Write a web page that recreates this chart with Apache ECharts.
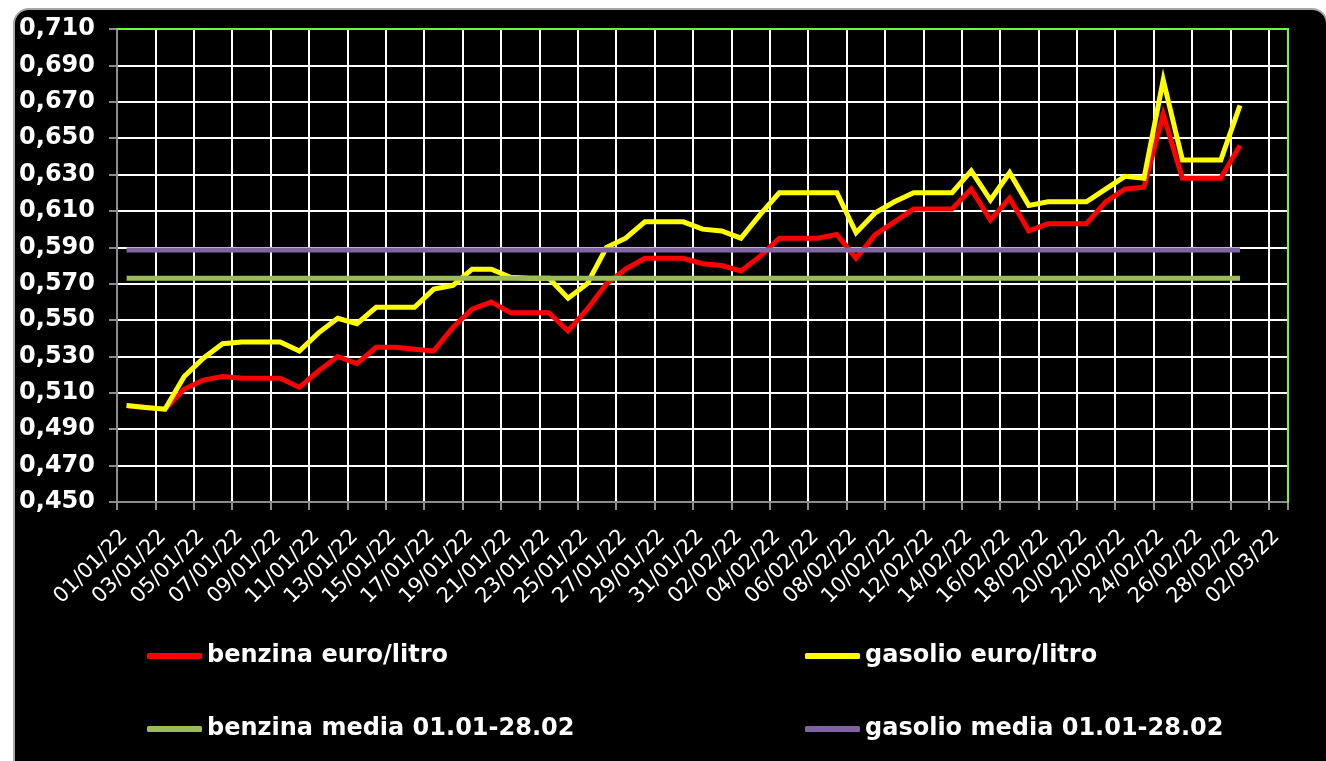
<!DOCTYPE html>
<html>
<head>
<meta charset="utf-8">
<script src="https://cdn.jsdelivr.net/npm/echarts@6/dist/echarts.min.js"></script>
<style>
  html, body { margin: 0; padding: 0; background: #ffffff; width: 1326px; height: 761px; overflow: hidden; }
  #frame { position: absolute; left: 13px; top: 8px; width: 1311px; height: 790px; background: #000; border: 2px solid #a6a6a6; border-radius: 16px; }
  #main { position: absolute; left: 0; top: 0; width: 1326px; height: 761px; }
</style>
</head>
<body>
<div id="frame"></div>
<div id="main"></div>
<script>
// Tick labels of the date axis (every 2 days, 01/01/22 .. 02/03/22)
const tickLabels = ['01/01/22','03/01/22','05/01/22','07/01/22','09/01/22','11/01/22','13/01/22','15/01/22',
  '17/01/22','19/01/22','21/01/22','23/01/22','25/01/22','27/01/22','29/01/22','31/01/22',
  '02/02/22','04/02/22','06/02/22','08/02/22','10/02/22','12/02/22','14/02/22','16/02/22',
  '18/02/22','20/02/22','22/02/22','24/02/22','26/02/22','28/02/22','02/03/22'];

// Daily values 01/01/22 .. 28/02/22
const benzina = [0.503,0.502,0.501,0.512,0.517,0.519,0.518,0.518,0.518,0.513,
  0.522,0.530,0.526,0.535,0.535,0.534,0.533,0.546,0.556,0.560,
  0.554,0.554,0.554,0.544,0.556,0.570,0.578,0.584,0.584,0.584,
  0.581,0.580,0.577,0.585,0.595,0.595,0.595,0.597,0.584,0.597,
  0.604,0.611,0.611,0.611,0.622,0.605,0.617,0.599,0.603,0.603,
  0.603,0.615,0.622,0.623,0.663,0.628,0.628,0.628,0.646];
const gasolio = [0.503,0.502,0.501,0.519,0.529,0.537,0.538,0.538,0.538,0.533,
  0.543,0.551,0.548,0.557,0.557,0.557,0.567,0.569,0.578,0.578,
  0.5735,0.573,0.573,0.562,0.570,0.590,0.595,0.604,0.604,0.604,
  0.600,0.599,0.595,0.608,0.620,0.620,0.620,0.620,0.598,0.609,
  0.615,0.620,0.620,0.620,0.632,0.616,0.631,0.613,0.615,0.615,
  0.615,0.622,0.629,0.628,0.682,0.638,0.638,0.638,0.668];
const benzinaMedia = 0.573;
const gasolioMedia = 0.5885;

const seriesNames = ['benzina euro/litro','gasolio euro/litro','benzina media 01.01-28.02','gasolio media 01.01-28.02'];
const seriesColors = ['#ff0000','#ffff00','#9bbb59','#8064a2'];

const FONT = 'DejaVu Sans';
const daily = arr => arr.map((v, i) => [i + 0.5, v]);
const flat = (v, n) => [[0.5, v], [n - 0.5, v]];

const chart = echarts.init(document.getElementById('main'), null, { renderer: 'canvas' });

const legendPos = [[147, 644], [805, 644], [147, 717], [805, 717]];
const legends = seriesNames.map((name, k) => ({
  data: [name], left: legendPos[k][0], top: legendPos[k][1], padding: 0,
  icon: 'roundRect', itemWidth: 55, itemHeight: 6,
  textStyle: { color: '#ffffff', fontWeight: 'bold', fontSize: 24, fontFamily: FONT },
  selectedMode: false
}));

chart.setOption({
  animation: false,
  backgroundColor: 'transparent',
  color: seriesColors,
  grid: { left: 117, top: 29, width: 1171, height: 473, containLabel: false },
  legend: legends,
  xAxis: [{
    type: 'value', min: 0, max: 61, interval: 2,
    axisLine: { show: true, lineStyle: { color: '#8c8c8c', width: 2 } },
    axisTick: { show: true, length: 8, lineStyle: { color: '#8c8c8c', width: 2 } },
    splitLine: { show: true, lineStyle: { color: '#ffffff', width: 2 } },
    axisLabel: {
      rotate: 45, margin: 24, color: '#ffffff', fontSize: 21, fontFamily: FONT,
      align: 'right', verticalAlign: 'top',
      formatter: v => (v % 2 === 0 && tickLabels[v / 2] !== undefined) ? tickLabels[v / 2] : ''
    }
  }, {
    type: 'value', position: 'top', min: 0, max: 61, z: 5,
    axisLine: { show: true, onZero: false, lineStyle: { color: '#66ff33', width: 2 } },
    axisTick: { show: false }, axisLabel: { show: false }, splitLine: { show: false }
  }],
  yAxis: [{
    type: 'value', min: 0.45, max: 0.71, interval: 0.02,
    axisLine: { show: true, lineStyle: { color: '#8c8c8c', width: 2 } },
    axisTick: { show: true, length: 8, lineStyle: { color: '#8c8c8c', width: 2 } },
    splitLine: { show: true, lineStyle: { color: '#ffffff', width: 2 } },
    axisLabel: {
      margin: 22, color: '#ffffff', fontWeight: 'bold', fontSize: 24, fontFamily: FONT,
      formatter: v => v.toFixed(3).replace('.', ',')
    }
  }, {
    type: 'value', position: 'right', min: 0.45, max: 0.71, z: 5,
    axisLine: { show: true, onZero: false, lineStyle: { color: '#66ff33', width: 2 } },
    axisTick: { show: false }, axisLabel: { show: false }, splitLine: { show: false }
  }],
  series: [
    { name: seriesNames[0], type: 'line', data: daily(benzina), showSymbol: false, symbol: 'none',
      lineStyle: { width: 5, color: seriesColors[0], join: 'miter' } },
    { name: seriesNames[1], type: 'line', data: daily(gasolio), showSymbol: false, symbol: 'none',
      lineStyle: { width: 5, color: seriesColors[1], join: 'miter' } },
    { name: seriesNames[2], type: 'line', data: flat(benzinaMedia, benzina.length), showSymbol: false, symbol: 'none',
      lineStyle: { width: 5, color: seriesColors[2] } },
    { name: seriesNames[3], type: 'line', data: flat(gasolioMedia, gasolio.length), showSymbol: false, symbol: 'none',
      lineStyle: { width: 5, color: seriesColors[3] } }
  ]
});
</script>
</body>
</html>
